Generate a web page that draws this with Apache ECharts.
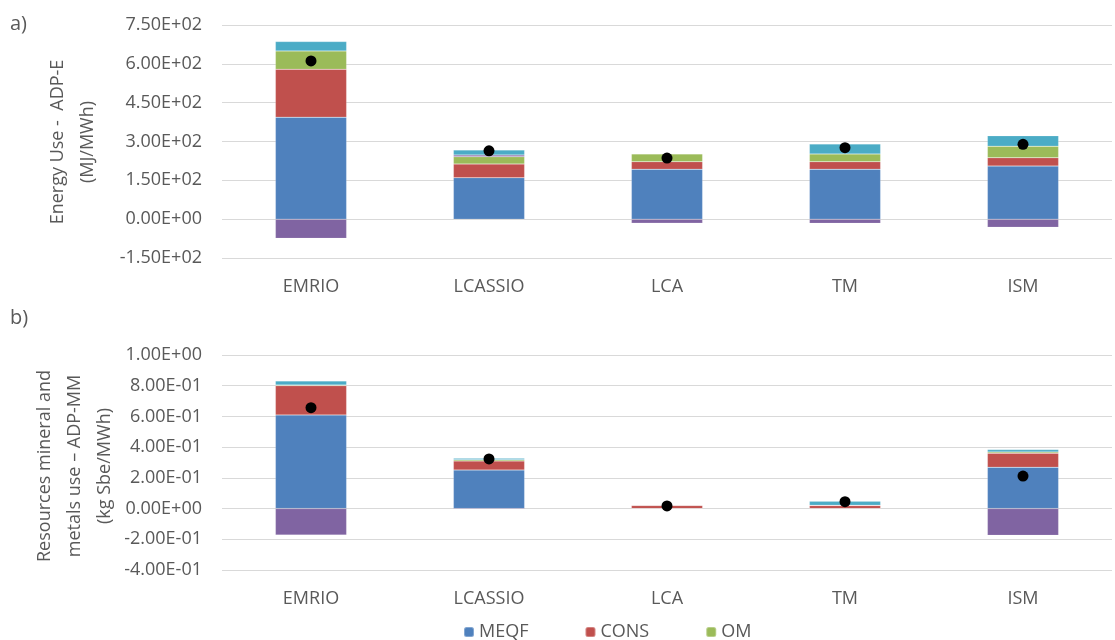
<!DOCTYPE html>
<html>
<head>
<meta charset="utf-8">
<script src="https://cdn.jsdelivr.net/npm/echarts@6/dist/echarts.min.js"></script>
<style>
  html, body { margin: 0; padding: 0; background: #fff; }
  #chart { width: 1115px; height: 640px; }
</style>
</head>
<body>
<div id="chart"></div>
<script>
// categories (same for both panels)
const categories = ['EMRIO', 'LCASSIO', 'LCA', 'TM', 'ISM'];

// panel a) Energy use ADP-E (MJ/MWh)
const meqfA = [394, 160, 193, 193, 205];
const consA = [185, 53, 29, 29, 32];
const omA = [71, 28, 30, 30, 45];
const eolA = [-74, 7, -16, -16, -31];
const transA = [36, 19, 0, 38, 40];
const netA = [611, 264, 236, 276, 289];

// panel b) Resources mineral and metals use ADP-MM (kg Sbe/MWh)
const meqfB = [0.61, 0.251, 0, 0, 0.269];
const consB = [0.19, 0.059, 0.02, 0.02, 0.092];
const omB = [0.005, 0.008, 0.003, 0.002, 0.008];
const eolB = [-0.172, -0.004, -0.003, -0.002, -0.174];
const transB = [0.026, 0.01, 0, 0.025, 0.015];
const netB = [0.657, 0.323, 0.017, 0.045, 0.212];

const legendNames = ['MEQF', 'CONS', 'OM'];

const FONT = '"Open Sans", sans-serif';
const GREY = '#595959';
const colors = {
    MEQF: '#4f81bd',
    CONS: '#c0504d',
    OM: '#9bbb59',
    EOL: '#8064a2',
    TRANS: '#4bacc6'
};

// Excel style scientific labels, e.g. 7.50E+02
function sci(v) {
    const parts = Number(v).toExponential(2).split('e');
    let exp = parseInt(parts[1], 10);
    const sign = exp < 0 ? '-' : '+';
    exp = Math.abs(exp);
    return parts[0] + 'E' + sign + (exp < 10 ? '0' + exp : exp);
}

function barSeries(name, data, idx) {
    return {
        name: name,
        type: 'bar',
        xAxisIndex: idx,
        yAxisIndex: idx,
        stack: 'p' + idx,
        barWidth: '40%',
        data: data,
        itemStyle: {
            color: colors[name],
            borderColor: 'rgba(255,255,255,0.3)',
            borderWidth: 0.5
        }
    };
}

function netSeries(data, idx) {
    return {
        name: 'Net',
        type: 'scatter',
        xAxisIndex: idx,
        yAxisIndex: idx,
        data: data,
        symbolSize: 11,
        itemStyle: { color: '#000', opacity: 1 },
        z: 10
    };
}

function xAxisFor(idx) {
    return {
        type: 'category',
        gridIndex: idx,
        data: categories,
        position: 'bottom',
        axisLine: { show: false },
        axisTick: { show: false },
        axisLabel: { color: GREY, fontFamily: FONT, fontSize: 18, margin: 20 },
        splitLine: { show: false }
    };
}

function yAxisFor(idx, min, max, interval) {
    return {
        type: 'value',
        gridIndex: idx,
        min: min,
        max: max,
        interval: interval,
        axisLine: { show: false },
        axisTick: { show: false },
        axisLabel: { color: GREY, fontFamily: FONT, fontSize: 18, margin: 20, formatter: sci },
        splitLine: { lineStyle: { color: '#d9d9d9', width: 1 } }
    };
}

// rotated axis title
function axisTitle(text, x, y) {
    return {
        type: 'text',
        x: x,
        y: y,
        rotation: Math.PI / 2,
        style: {
            text: text,
            fill: GREY,
            font: '18px ' + FONT,
            lineHeight: 30,
            align: 'center',
            verticalAlign: 'middle'
        }
    };
}

const chart = echarts.init(document.getElementById('chart'));
const option = {
    backgroundColor: '#fff',
    animation: false,
    graphic: [
        { type: 'text', left: 10, top: 14, style: { text: 'a)', fill: GREY, font: '20px ' + FONT } },
        { type: 'text', left: 10, top: 308, style: { text: 'b)', fill: GREY, font: '20px ' + FONT } },
        axisTitle('Energy Use -  ADP-E\n(MJ/MWh)', 73, 142),
        axisTitle('Resources mineral and\nmetals use \u2013 ADP-MM\n(kg Sbe/MWh)', 75, 466)
    ],
    legend: {
        data: legendNames,
        left: 458,
        top: 618,
        itemWidth: 10,
        itemHeight: 10,
        itemGap: 56,
        textStyle: { color: GREY, fontFamily: FONT, fontSize: 18 }
    },
    grid: [
        { left: 222, right: 3, top: 25, height: 233 },
        { left: 222, right: 3, top: 355, height: 215 }
    ],
    xAxis: [xAxisFor(0), xAxisFor(1)],
    yAxis: [
        yAxisFor(0, -150, 750, 150),
        yAxisFor(1, -0.4, 1.0, 0.2)
    ],
    series: [
        barSeries('MEQF', meqfA, 0),
        barSeries('CONS', consA, 0),
        barSeries('OM', omA, 0),
        barSeries('EOL', eolA, 0),
        barSeries('TRANS', transA, 0),
        netSeries(netA, 0),
        barSeries('MEQF', meqfB, 1),
        barSeries('CONS', consB, 1),
        barSeries('OM', omB, 1),
        barSeries('EOL', eolB, 1),
        barSeries('TRANS', transB, 1),
        netSeries(netB, 1)
    ]
};
chart.setOption(option);
window.addEventListener('resize', () => chart.resize());
</script>
</body>
</html>
